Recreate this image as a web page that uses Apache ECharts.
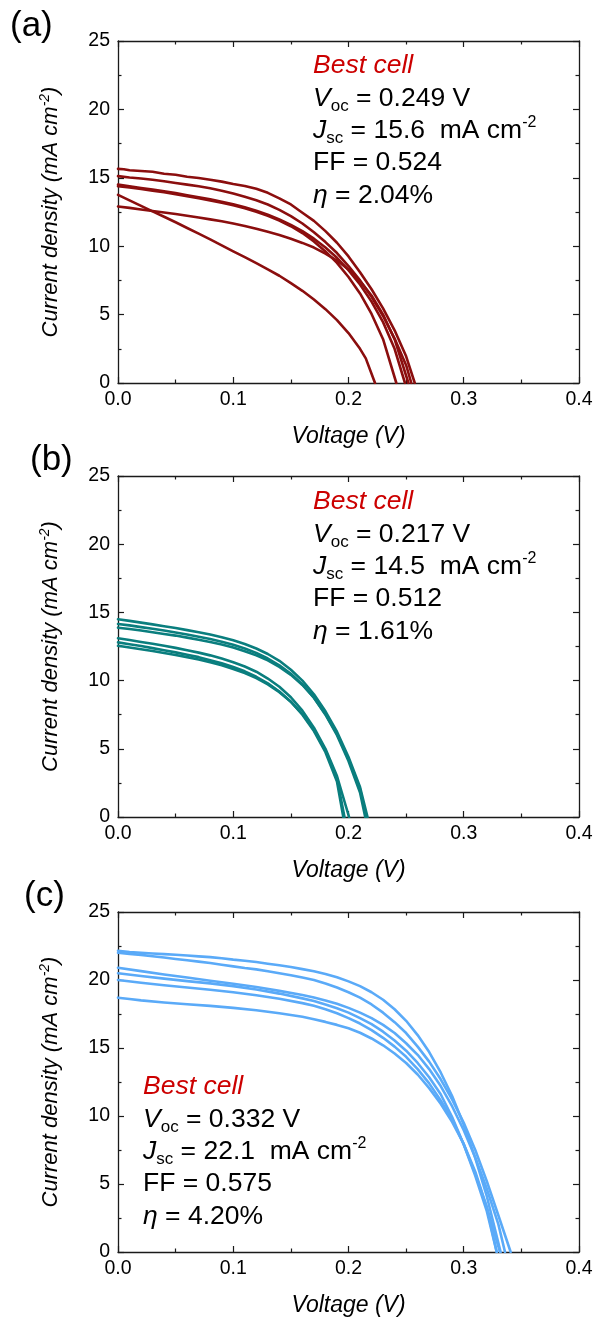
<!DOCTYPE html>
<html>
<head>
<meta charset="utf-8">
<script src="https://cdn.jsdelivr.net/npm/echarts@6/dist/echarts.min.js"></script>
<style>
  html, body { margin: 0; padding: 0; background: #fff; }
  #chart { width: 596px; height: 1319px; }
</style>
</head>
<body>
<div id="chart"></div>
<script>
// J–V curves: [voltage (V), current density (mA cm^-2)]
// Panel (a)
const curveA1 = [[0,15.65],[0.005,15.63],[0.01,15.55],[0.02,15.5],[0.03,15.44],[0.04,15.3],[0.05,15.22],[0.06,15.08],[0.07,14.99],[0.08,14.86],[0.09,14.72],[0.10,14.55],[0.11,14.4],[0.12,14.2],[0.13,13.9],[0.14,13.5],[0.15,13.05],[0.16,12.45],[0.17,11.85],[0.18,11.1],[0.19,10.25],[0.20,9.25],[0.21,8.1],[0.22,6.85],[0.23,5.45],[0.24,3.85],[0.25,1.95],[0.2575,0]];
const curveA2 = [[0,15.12],[0.01,15.02],[0.02,14.95],[0.03,14.86],[0.04,14.75],[0.05,14.62],[0.06,14.5],[0.07,14.38],[0.08,14.24],[0.09,14.06],[0.10,13.86],[0.11,13.62],[0.12,13.36],[0.13,13.05],[0.14,12.66],[0.15,12.2],[0.16,11.66],[0.17,11.02],[0.18,10.3],[0.19,9.5],[0.20,8.55],[0.21,7.5],[0.22,6.3],[0.23,4.9],[0.24,3.25],[0.25,1.3],[0.2545,0]];
const curveA3 = [[0,14.5],[0.01,14.38],[0.02,14.26],[0.03,14.14],[0.04,14.02],[0.05,13.88],[0.06,13.73],[0.07,13.58],[0.08,13.43],[0.09,13.25],[0.10,13.06],[0.11,12.85],[0.12,12.6],[0.13,12.3],[0.14,11.96],[0.15,11.56],[0.16,11.1],[0.17,10.55],[0.18,9.9],[0.19,9.15],[0.20,8.25],[0.21,7.2],[0.22,5.95],[0.23,4.45],[0.24,2.5],[0.249,0]];
const curveA4 = [[0,14.38],[0.01,14.3],[0.02,14.18],[0.03,14.06],[0.04,13.94],[0.05,13.8],[0.06,13.66],[0.07,13.5],[0.08,13.35],[0.09,13.18],[0.10,13.0],[0.11,12.78],[0.12,12.52],[0.13,12.22],[0.14,11.88],[0.15,11.46],[0.16,10.96],[0.17,10.35],[0.18,9.62],[0.19,8.78],[0.20,7.75],[0.21,6.55],[0.22,5.05],[0.23,3.2],[0.2415,0]];
const curveA5 = [[0,12.9],[0.01,12.8],[0.02,12.68],[0.03,12.57],[0.04,12.46],[0.05,12.35],[0.06,12.23],[0.07,12.1],[0.08,11.96],[0.09,11.82],[0.10,11.66],[0.11,11.48],[0.12,11.28],[0.13,11.06],[0.14,10.82],[0.15,10.55],[0.16,10.24],[0.17,9.9],[0.18,9.46],[0.19,8.95],[0.20,8.3],[0.21,7.45],[0.22,6.4],[0.23,5.0],[0.24,3.2],[0.252,0]];
const curveA6 = [[0,13.75],[0.01,13.35],[0.02,12.95],[0.03,12.55],[0.04,12.15],[0.05,11.75],[0.06,11.33],[0.07,10.92],[0.08,10.5],[0.09,10.06],[0.10,9.62],[0.11,9.2],[0.12,8.76],[0.13,8.3],[0.14,7.84],[0.15,7.3],[0.16,6.74],[0.17,6.1],[0.18,5.4],[0.19,4.6],[0.20,3.65],[0.21,2.5],[0.215,1.8],[0.223,0]];

// Panel (b)
const curveB1 = [[0,14.5],[0.01,14.38],[0.02,14.25],[0.03,14.12],[0.04,13.98],[0.05,13.85],[0.06,13.7],[0.07,13.55],[0.08,13.38],[0.09,13.18],[0.10,12.95],[0.11,12.68],[0.12,12.35],[0.13,11.95],[0.14,11.45],[0.15,10.8],[0.16,10.0],[0.17,9.0],[0.18,7.75],[0.19,6.25],[0.20,4.4],[0.21,2.2],[0.2165,0]];
const curveB2 = [[0,14.15],[0.01,14.05],[0.02,13.92],[0.03,13.8],[0.04,13.67],[0.05,13.52],[0.06,13.38],[0.07,13.22],[0.08,13.05],[0.09,12.85],[0.10,12.62],[0.11,12.35],[0.12,12.02],[0.13,11.62],[0.14,11.12],[0.15,10.5],[0.16,9.72],[0.17,8.75],[0.18,7.5],[0.19,6.0],[0.20,4.1],[0.21,1.8],[0.2145,0]];
const curveB3 = [[0,13.88],[0.01,13.78],[0.02,13.67],[0.03,13.55],[0.04,13.42],[0.05,13.3],[0.06,13.15],[0.07,13.0],[0.08,12.83],[0.09,12.65],[0.10,12.42],[0.11,12.15],[0.12,11.85],[0.13,11.48],[0.14,11.0],[0.15,10.42],[0.16,9.68],[0.17,8.75],[0.18,7.55],[0.19,6.1],[0.20,4.25],[0.21,2.05],[0.2155,0]];
const curveB4 = [[0,13.1],[0.01,12.97],[0.02,12.83],[0.03,12.7],[0.04,12.55],[0.05,12.4],[0.06,12.23],[0.07,12.05],[0.08,11.85],[0.09,11.62],[0.10,11.35],[0.11,11.03],[0.12,10.65],[0.13,10.15],[0.14,9.55],[0.15,8.78],[0.16,7.8],[0.17,6.55],[0.18,5.0],[0.19,3.0],[0.2005,0]];
const curveB5 = [[0,12.8],[0.01,12.67],[0.02,12.53],[0.03,12.38],[0.04,12.22],[0.05,12.07],[0.06,11.9],[0.07,11.72],[0.08,11.5],[0.09,11.27],[0.10,11.0],[0.11,10.68],[0.12,10.28],[0.13,9.8],[0.14,9.2],[0.15,8.45],[0.16,7.5],[0.17,6.3],[0.18,4.75],[0.19,2.6],[0.1955,0]];
const curveB6 = [[0,12.55],[0.01,12.43],[0.02,12.3],[0.03,12.17],[0.04,12.02],[0.05,11.88],[0.06,11.72],[0.07,11.55],[0.08,11.35],[0.09,11.12],[0.10,10.85],[0.11,10.55],[0.12,10.18],[0.13,9.72],[0.14,9.15],[0.15,8.45],[0.16,7.55],[0.17,6.4],[0.18,4.9],[0.19,2.85],[0.1965,0]];

// Panel (c)
const curveC1 = [[0,22.15],[0.01,22.06],[0.02,22.0],[0.03,21.95],[0.04,21.9],[0.05,21.86],[0.06,21.8],[0.07,21.74],[0.08,21.68],[0.09,21.6],[0.10,21.5],[0.11,21.42],[0.12,21.32],[0.13,21.2],[0.14,21.08],[0.15,20.95],[0.16,20.8],[0.17,20.64],[0.18,20.44],[0.19,20.2],[0.20,19.9],[0.21,19.55],[0.22,19.1],[0.23,18.55],[0.24,17.85],[0.25,17.0],[0.26,15.95],[0.27,14.7],[0.28,13.2],[0.29,11.45],[0.30,9.35],[0.31,6.9],[0.32,4.1],[0.332,0]];
const curveC2 = [[0,22.0],[0.01,21.92],[0.02,21.85],[0.03,21.75],[0.04,21.65],[0.05,21.55],[0.06,21.45],[0.07,21.35],[0.08,21.25],[0.09,21.12],[0.10,21.0],[0.11,20.88],[0.12,20.78],[0.13,20.65],[0.14,20.5],[0.15,20.35],[0.16,20.18],[0.17,20.0],[0.18,19.75],[0.19,19.45],[0.20,19.1],[0.21,18.7],[0.22,18.2],[0.23,17.6],[0.24,16.9],[0.25,16.1],[0.26,15.1],[0.27,14.0],[0.28,12.7],[0.29,11.2],[0.30,9.5],[0.31,7.5],[0.32,5.2],[0.33,2.7],[0.3407,0]];
const curveC3 = [[0,20.9],[0.02,20.65],[0.04,20.4],[0.06,20.18],[0.08,19.95],[0.10,19.72],[0.12,19.48],[0.14,19.2],[0.16,18.9],[0.17,18.72],[0.18,18.5],[0.19,18.25],[0.20,17.95],[0.21,17.6],[0.22,17.2],[0.23,16.7],[0.24,16.1],[0.25,15.35],[0.26,14.5],[0.27,13.45],[0.28,12.2],[0.29,10.7],[0.30,8.95],[0.31,6.95],[0.32,4.65],[0.33,2.05],[0.3358,0]];
const curveC4 = [[0,20.5],[0.02,20.3],[0.04,20.1],[0.06,19.92],[0.08,19.75],[0.10,19.55],[0.12,19.3],[0.14,19.0],[0.16,18.65],[0.17,18.45],[0.18,18.2],[0.19,17.92],[0.20,17.6],[0.21,17.2],[0.22,16.75],[0.23,16.2],[0.24,15.55],[0.25,14.8],[0.26,13.9],[0.27,12.85],[0.28,11.6],[0.29,9.9],[0.30,7.9],[0.31,5.6],[0.32,3.0],[0.3286,0]];
const curveC5 = [[0,20.0],[0.02,19.8],[0.04,19.62],[0.06,19.45],[0.08,19.28],[0.10,19.1],[0.12,18.88],[0.14,18.62],[0.16,18.3],[0.17,18.1],[0.18,17.85],[0.19,17.55],[0.20,17.2],[0.21,16.8],[0.22,16.32],[0.23,15.75],[0.24,15.1],[0.25,14.35],[0.26,13.45],[0.27,12.4],[0.28,11.15],[0.29,9.75],[0.30,7.9],[0.31,5.75],[0.32,3.3],[0.3314,0]];
const curveC6 = [[0,18.7],[0.01,18.6],[0.02,18.5],[0.04,18.35],[0.06,18.22],[0.08,18.1],[0.10,17.95],[0.12,17.78],[0.14,17.55],[0.16,17.3],[0.17,17.12],[0.18,16.92],[0.19,16.7],[0.20,16.45],[0.21,16.12],[0.22,15.7],[0.23,15.2],[0.24,14.6],[0.25,13.9],[0.26,13.05],[0.27,12.05],[0.28,10.9],[0.29,9.55],[0.30,7.95],[0.31,5.9],[0.32,3.3],[0.3286,0]];

const panelCurves = [
  [curveA1, curveA2, curveA3, curveA4, curveA5, curveA6],
  [curveB1, curveB2, curveB3, curveB4, curveB5, curveB6],
  [curveC1, curveC2, curveC3, curveC4, curveC5, curveC6]
];

// Best-cell figures of merit per panel
const panelLetters = ['(a)', '(b)', '(c)'];
const bestVoc = ['0.249', '0.217', '0.332'];
const bestJsc = ['15.6', '14.5', '22.1'];
const bestFF  = ['0.524', '0.512', '0.575'];
const bestEta = ['2.04', '1.61', '4.20'];

// Axis ranges
const voltageRange = [0, 0.4, 0.1];
const currentRange = [0, 25, 5];

// Layout and style
const FONT = '"Liberation Sans", Arial, Helvetica, sans-serif';
const lineColors = ['#8b0e0e', '#0a7e7e', '#5aaaf8'];
const GRID_LEFT = 118, GRID_W = 461;
const gridTops = [41, 476, 912];
const gridHeights = [342, 341, 340];
const notePos = [[313, 66], [313, 502], [143, 1087]];
const letterPos = [[10, 26], [30, 460], [24, 896]];
const NOTE_STEP = 32.3;
const NOTE_SIZE = 26.5;
const AXIS_COLOR = '#1a1a1a';

const chart = echarts.init(document.getElementById('chart'), null, { renderer: 'canvas' });

function frameAxis(extra) {
  return Object.assign({
    type: 'value',
    axisLine: { show: true, onZero: false, lineStyle: { color: AXIS_COLOR, width: 1.3 } },
    axisTick: { show: true, inside: true, length: 6, lineStyle: { color: AXIS_COLOR, width: 1.2 } },
    minorTick: { show: true, splitNumber: 2, length: 3.5, lineStyle: { color: AXIS_COLOR, width: 1.2 } },
    splitLine: { show: false },
    minorSplitLine: { show: false }
  }, extra);
}

const grids = [], xAxes = [], yAxes = [], series = [], graphics = [];

gridTops.forEach((top, i) => {
  const h = gridHeights[i];
  grids.push({ left: GRID_LEFT, top: top, width: GRID_W, height: h, outerBoundsMode: 'none', containLabel: false });

  const xBase = { gridIndex: i, min: voltageRange[0], max: voltageRange[1], interval: voltageRange[2] };
  const yBase = { gridIndex: i, min: currentRange[0], max: currentRange[1], interval: currentRange[2] };

  xAxes.push(frameAxis(Object.assign({}, xBase, {
    position: 'bottom',
    axisLabel: { show: true, fontSize: 19.5, color: '#000', fontFamily: FONT, margin: 7,
                 formatter: v => v.toFixed(1) }
  })));
  xAxes.push(frameAxis(Object.assign({}, xBase, { position: 'top', axisLabel: { show: false } })));

  yAxes.push(frameAxis(Object.assign({}, yBase, {
    position: 'left',
    axisLabel: { show: true, fontSize: 19.5, color: '#000', fontFamily: FONT, margin: 8 }
  })));
  yAxes.push(frameAxis(Object.assign({}, yBase, { position: 'right', axisLabel: { show: false } })));

  panelCurves[i].forEach((curve, k) => {
    series.push({
      type: 'line',
      name: panelLetters[i] + ' ' + (k + 1),
      xAxisIndex: 2 * i,
      yAxisIndex: 2 * i,
      data: curve,
      showSymbol: false,
      symbol: 'none',
      smooth: false,
      clip: true,
      lineStyle: { color: lineColors[i], width: 2.6, join: 'round', cap: 'round' },
      emphasis: { disabled: true },
      z: 3
    });
  });

  // Panel letter
  graphics.push({
    type: 'text', x: letterPos[i][0], y: letterPos[i][1],
    style: { text: panelLetters[i], font: '35px ' + FONT, fill: '#000', verticalAlign: 'middle' }
  });

  // Axis titles
  graphics.push({
    type: 'text', x: 51, y: top + h / 2, rotation: Math.PI / 2,
    style: {
      text: '{i|Current density (mA cm}{s|-2}{i|)}',
      align: 'center', verticalAlign: 'middle',
      rich: {
        i: { fontSize: 22, fontStyle: 'italic', fontFamily: FONT, fill: '#000', lineHeight: 26 },
        s: { fontSize: 14, fontStyle: 'italic', fontFamily: FONT, fill: '#000', lineHeight: 14, verticalAlign: 'top' }
      }
    }
  });
  graphics.push({
    type: 'text', x: GRID_LEFT + GRID_W / 2, y: top + h + 54,
    style: { text: 'Voltage (V)', font: 'italic 23px ' + FONT, fill: '#000', align: 'center', verticalAlign: 'middle' }
  });

  // Best-cell annotation block
  const rich = {
    r:   { fontSize: NOTE_SIZE, fontStyle: 'italic', fontFamily: FONT, fill: '#cc0000', lineHeight: 33 },
    n:   { fontSize: NOTE_SIZE, fontFamily: FONT, fill: '#000', lineHeight: 33 },
    it:  { fontSize: NOTE_SIZE, fontStyle: 'italic', fontFamily: FONT, fill: '#000', lineHeight: 33 },
    sub: { fontSize: 17, fontFamily: FONT, fill: '#000', lineHeight: 17, verticalAlign: 'bottom' },
    sup: { fontSize: 16, fontFamily: FONT, fill: '#000', lineHeight: 16, verticalAlign: 'top' }
  };
  const lines = [
    '{r|Best cell}',
    '{it|V}{sub|oc}{n| = ' + bestVoc[i] + ' V}',
    '{it|J}{sub|sc}{n| = ' + bestJsc[i] + '  mA cm}{sup|-2}',
    '{n|FF = ' + bestFF[i] + '}',
    '{it|\u03b7}{n| = ' + bestEta[i] + '%}'
  ];
  lines.forEach((t, j) => {
    graphics.push({
      type: 'text', x: notePos[i][0], y: notePos[i][1] + j * NOTE_STEP,
      style: { text: t, rich: rich, verticalAlign: 'middle', align: 'left' },
      z: 10
    });
  });
});

chart.setOption({
  animation: false,
  backgroundColor: '#fff',
  grid: grids,
  xAxis: xAxes,
  yAxis: yAxes,
  series: series,
  graphic: { elements: graphics }
});
</script>
</body>
</html>
